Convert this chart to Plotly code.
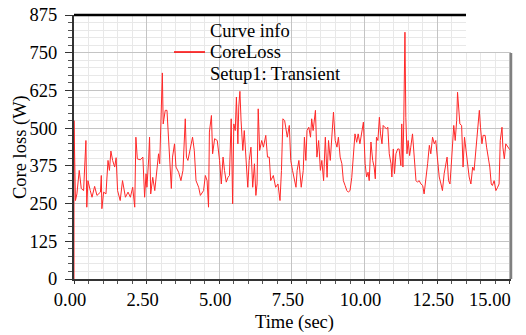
import plotly.graph_objects as go

time_s = [
    0.00, 0.00, 0.05, 0.10, 0.18, 0.25, 0.33, 0.39, 0.41, 0.44, 0.48, 0.56, 0.62, 0.71, 0.79, 0.91, 0.94, 0.96,
    1.02, 1.10, 1.17, 1.22, 1.27, 1.33, 1.40, 1.45, 1.50, 1.59, 1.67, 1.77, 1.86, 1.94, 2.02, 2.09, 2.13, 2.18,
    2.28, 2.37, 2.43, 2.48, 2.51, 2.57, 2.60, 2.64, 2.71, 2.78, 2.86, 2.91, 2.95, 3.01, 3.04, 3.07, 3.14, 3.20,
    3.26, 3.31, 3.35, 3.39, 3.46, 3.51, 3.60, 3.68, 3.75, 3.83, 3.87, 3.92, 4.00, 4.08, 4.14, 4.20, 4.29, 4.35,
    4.46, 4.52, 4.58, 4.63, 4.66, 4.73, 4.77, 4.84, 4.93,
    5.01, 5.07, 5.13, 5.18, 5.24, 5.30, 5.35, 5.41, 5.46, 5.50, 5.55, 5.59, 5.64, 5.67, 5.71, 5.75, 5.81, 5.86,
    5.92, 5.98, 6.03, 6.09, 6.15, 6.21, 6.26, 6.30, 6.34, 6.39, 6.46, 6.52, 6.60, 6.66, 6.72, 6.77, 6.86, 6.94,
    7.02, 7.09, 7.14, 7.19, 7.25, 7.34, 7.41, 7.46, 7.52, 7.59, 7.64, 7.68, 7.74, 7.82, 7.89, 7.93, 7.98, 8.02,
    8.08, 8.14, 8.18, 8.23, 8.31, 8.36, 8.42, 8.48, 8.53, 8.59, 8.65, 8.71, 8.76, 8.82, 8.88, 8.93, 8.99, 9.05,
    9.10, 9.16, 9.22, 9.27, 9.33, 9.39, 9.44, 9.50, 9.56, 9.61, 9.67, 9.73, 9.78, 9.84, 9.90, 9.96,
    10.02, 10.07, 10.12, 10.16, 10.22, 10.28, 10.33, 10.37, 10.41, 10.46, 10.51, 10.55, 10.60, 10.64, 10.69,
    10.76, 10.80, 10.85, 10.91, 10.94, 10.99, 11.03, 11.08, 11.14, 11.19, 11.25, 11.28, 11.32, 11.35, 11.39,
    11.42, 11.46, 11.50, 11.55, 11.59, 11.65, 11.71, 11.77, 11.82, 11.88, 11.94, 12.00, 12.05, 12.11, 12.17,
    12.23, 12.28, 12.34, 12.40, 12.45, 12.51, 12.57, 12.63, 12.68, 12.74, 12.80, 12.84, 12.89, 12.94, 12.98,
    13.03, 13.07, 13.12, 13.17, 13.20, 13.23, 13.28, 13.34, 13.39, 13.44, 13.49, 13.54, 13.60, 13.66, 13.72,
    13.77, 13.83, 13.89, 13.95, 13.99, 14.04, 14.08, 14.15, 14.20, 14.26, 14.31, 14.36, 14.40, 14.46, 14.52,
    14.58, 14.63, 14.67, 14.73, 14.76, 14.81, 14.86, 14.92, 14.98, 15.04,
]

core_loss_w = [
    0, 525, 260, 282, 360, 300, 293, 404, 459, 238, 326, 293, 271, 307, 277, 288, 343, 233,
    288, 282, 393, 360, 424, 393, 371, 402, 293, 260, 326, 271, 288, 271, 304, 238, 470, 398,
    395, 404, 271, 349, 304, 398, 470, 282, 337, 293, 360, 415, 382, 559, 683, 514, 559, 559,
    459, 360, 300, 404, 448, 371, 354, 326, 360, 531, 404, 393, 437, 470, 426, 326, 304, 277,
    293, 343, 326, 238, 487, 542, 415, 465, 459,
    393, 315, 404, 360, 321, 337, 343, 531, 249, 514, 492, 603, 448, 570, 622, 525, 426, 492,
    393, 304, 393, 437, 304, 382, 277, 315, 564, 426, 459, 437, 476, 404, 404, 326, 343, 304,
    315, 260, 360, 531, 525, 470, 509, 393, 360, 326, 304, 360, 393, 304, 360, 470, 393, 492,
    503, 470, 531, 492, 559, 404, 459, 360, 393, 326, 470, 337, 459, 393, 492, 553, 459, 437,
    470, 404, 382, 326, 310, 293, 288, 293, 337, 415, 481, 453, 481, 448, 487, 520,
    382, 338, 354, 326, 454, 393, 371, 332, 470, 459, 536, 481, 448, 509, 503,
    498, 503, 415, 382, 338, 431, 349, 415, 431, 431, 376, 514, 371, 525, 818,
    536, 415, 459, 409, 437, 481, 404, 326, 321, 326, 315, 310, 282, 326, 382,
    443, 415, 470, 448, 459, 393, 338, 315, 293, 349, 393, 404, 326, 315, 371,
    470, 509, 459, 525, 619, 570, 514, 509, 371, 470, 426, 382, 338, 315, 371,
    360, 426, 481, 559, 503, 448, 476, 476, 437, 393, 371, 315, 310, 326, 293,
    304, 315, 459, 503, 437, 398, 448, 437, 431, 425,
]

x_ticks = [0, 2.5, 5, 7.5, 10, 12.5, 15]
x_tick_text = ["0.00", "2.50", "5.00", "7.50", "10.00", "12.50", ""]
last_x_label = "15.00"
y_ticks = [0, 125, 250, 375, 500, 625, 750, 875]

FONT = "Liberation Serif"
FS = 18.5

fig = go.Figure()
fig.add_trace(go.Scatter(
    x=time_s, y=core_loss_w, mode="lines",
    line=dict(color="rgb(255,40,40)", width=1),
    showlegend=False, hoverinfo="skip",
))

W, H = 526, 335
ml, mr, mt, mb = 74, 15, 15, 56
pw = W - ml - mr
ph = H - mt - mb

def px(xpix):
    return (xpix - ml) / pw

def py(ypix):
    return (H - mb - ypix) / ph

fig.update_layout(
    width=W, height=H,
    margin=dict(l=ml, r=mr, t=mt, b=mb, autoexpand=False),
    paper_bgcolor="white", plot_bgcolor="white",
    font=dict(family=FONT, size=FS, color="black"),
    xaxis=dict(
        range=[0, 15.04], tickvals=x_ticks, ticktext=x_tick_text, automargin=False,
        showgrid=True, gridcolor="#c4c4c4", gridwidth=1.2,
        showline=True, linecolor="#333333", linewidth=2,
        ticks="outside", ticklen=3, tickcolor="#333333", tickwidth=1,
        ticklabelshift=-4,
        minor=dict(dtick=0.5, showgrid=True, gridcolor="#e8e8e8", gridwidth=1,
                   ticks="outside", ticklen=3, tickcolor="#555555"),
        zeroline=False, fixedrange=True,
        tickfont=dict(family=FONT, size=FS),
    ),
    yaxis=dict(
        range=[0, 875], tickvals=y_ticks, automargin=False,
        showgrid=True, gridcolor="#c4c4c4", gridwidth=1.2,
        showline=True, linecolor="#333333", linewidth=2,
        ticks="outside", ticklen=7, tickcolor="#333333", tickwidth=1,
        ticklabelstandoff=4,
        minor=dict(dtick=25, showgrid=True, gridcolor="#e8e8e8", gridwidth=1,
                   ticks="outside", ticklen=4, tickcolor="#555555"),
        zeroline=False, fixedrange=True,
        tickfont=dict(family=FONT, size=FS),
    ),
    shapes=[
        dict(type="rect", xref="paper", yref="paper", x0=px(466), x1=1.1, y0=py(52), y1=1.1,
             fillcolor="white", line=dict(width=0), layer="above"),
        dict(type="line", xref="paper", yref="paper", x0=0, x1=px(466), y0=1, y1=1,
             line=dict(color="black", width=2.5), layer="above"),
        dict(type="line", xref="paper", yref="paper", x0=1, x1=1, y0=0, y1=py(53),
             line=dict(color="#808080", width=2.5), layer="above"),
        dict(type="line", xref="paper", yref="paper", x0=px(174), x1=px(205), y0=py(52), y1=py(52),
             line=dict(color="red", width=1.5), layer="above"),
    ],
    annotations=[
        dict(text="Curve info", xref="paper", yref="paper", x=px(208), y=py(31),
             xanchor="left", yanchor="middle", showarrow=False, font=dict(family=FONT, size=FS)),
        dict(text="CoreLoss", xref="paper", yref="paper", x=px(208), y=py(52),
             xanchor="left", yanchor="middle", showarrow=False, font=dict(family=FONT, size=FS)),
        dict(text="Setup1: Transient", xref="paper", yref="paper", x=px(208), y=py(74),
             xanchor="left", yanchor="middle", showarrow=False, font=dict(family=FONT, size=FS)),
        dict(text=last_x_label, xref="paper", yref="paper", x=px(513), y=py(300),
             xanchor="right", yanchor="middle", showarrow=False, font=dict(family=FONT, size=FS)),
        dict(text="Time (sec)", xref="paper", yref="paper", x=px(294), y=py(322),
             xanchor="center", yanchor="middle", showarrow=False, font=dict(family=FONT, size=FS)),
        dict(text="Core loss (W)", xref="paper", yref="paper", x=px(20), y=py(147),
             xanchor="center", yanchor="middle", textangle=-90, showarrow=False,
             font=dict(family=FONT, size=FS)),
    ],
)

fig.write_html("out.html")
